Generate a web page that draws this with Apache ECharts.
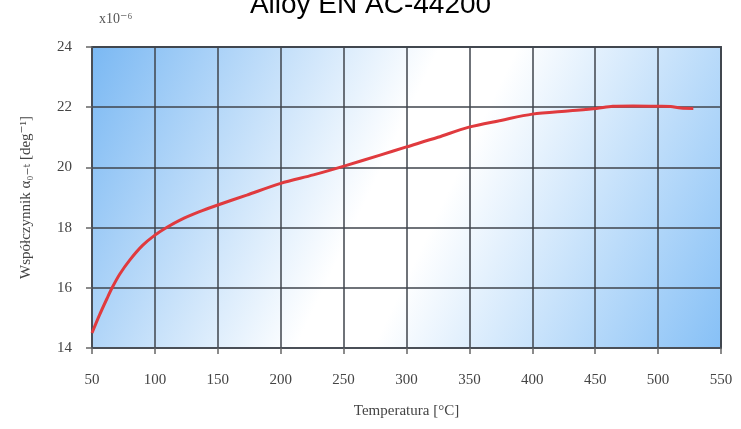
<!DOCTYPE html>
<html><head><meta charset="utf-8">
<script src="https://cdn.jsdelivr.net/npm/echarts@6/dist/echarts.min.js"></script>
<style>html,body{margin:0;padding:0;background:#fff}#c{width:741px;height:429px}</style>
</head><body><div id="c"></div>
<script>
const temperature = [50, 56, 62, 66, 72, 80, 90, 100, 110, 120, 135, 150, 173, 200, 226, 251, 279, 300, 325, 349, 375, 400, 430, 451, 464, 480, 501, 510, 518, 528];
const coefficient = [14.5, 15.1, 15.65, 16.0, 16.45, 16.92, 17.4, 17.75, 18.02, 18.25, 18.52, 18.75, 19.08, 19.47, 19.75, 20.05, 20.41, 20.68, 21.0, 21.33, 21.56, 21.77, 21.88, 21.96, 22.03, 22.04, 22.03, 22.02, 21.97, 21.96];
const xTicks = {min: 50, max: 550, interval: 50};
const yTicks = {min: 14, max: 24, interval: 2};

const chart = echarts.init(document.getElementById('c'));
const serif = 'Liberation Serif, DejaVu Serif, serif';
chart.setOption({
  animation: false,
  title: {text: 'Alloy EN AC-44200', left: 'center', top: -14,
    textStyle: {fontFamily: 'Liberation Sans, Arial, sans-serif', fontSize: 28, fontWeight: 'normal', color: '#000'}},
  graphic: [{type: 'text', left: 99, top: 12, style: {text: 'x10⁻⁶', font: '14px ' + serif, fill: '#555'}}],
  grid: {left: 92, right: 20, top: 47, bottom: 81, show: true, borderColor: '#4a4f57', borderWidth: 2,
    backgroundColor: new echarts.graphic.LinearGradient(0, 0, 1, 1, [
      {offset: 0, color: '#7ab8f3'}, {offset: 0.45, color: '#ffffff'}, {offset: 0.55, color: '#ffffff'}, {offset: 1, color: '#86c0f6'}])},
  xAxis: {type: 'value', min: xTicks.min, max: xTicks.max, interval: xTicks.interval,
    name: 'Temperatura [°C]', nameLocation: 'middle', nameGap: 56,
    nameTextStyle: {fontFamily: serif, fontSize: 15, color: '#444'},
    axisLine: {show: true, lineStyle: {color: '#4a4f57', width: 2}},
    axisTick: {show: true, length: 6, lineStyle: {color: '#666', width: 1.5}},
    axisLabel: {fontFamily: serif, fontSize: 15, color: '#444', margin: 25},
    splitLine: {show: true, lineStyle: {color: '#3f444c', width: 1.5}}},
  yAxis: {type: 'value', min: yTicks.min, max: yTicks.max, interval: yTicks.interval,
    name: 'Współczynnik α₀₋ₜ [deg⁻¹]', nameLocation: 'middle', nameGap: 58,
    nameTextStyle: {fontFamily: serif, fontSize: 15, color: '#444'},
    axisLine: {show: true, lineStyle: {color: '#4a4f57', width: 2}},
    axisTick: {show: true, length: 6, lineStyle: {color: '#666', width: 1.5}},
    axisLabel: {fontFamily: serif, fontSize: 15, color: '#444', margin: 20},
    splitLine: {show: true, lineStyle: {color: '#3f444c', width: 1.5}}},
  series: [{type: 'line', data: temperature.map((t, i) => [t, coefficient[i]]), smooth: 0.3, showSymbol: false,
    lineStyle: {color: '#e03a3e', width: 3}}]
});
</script></body></html>
